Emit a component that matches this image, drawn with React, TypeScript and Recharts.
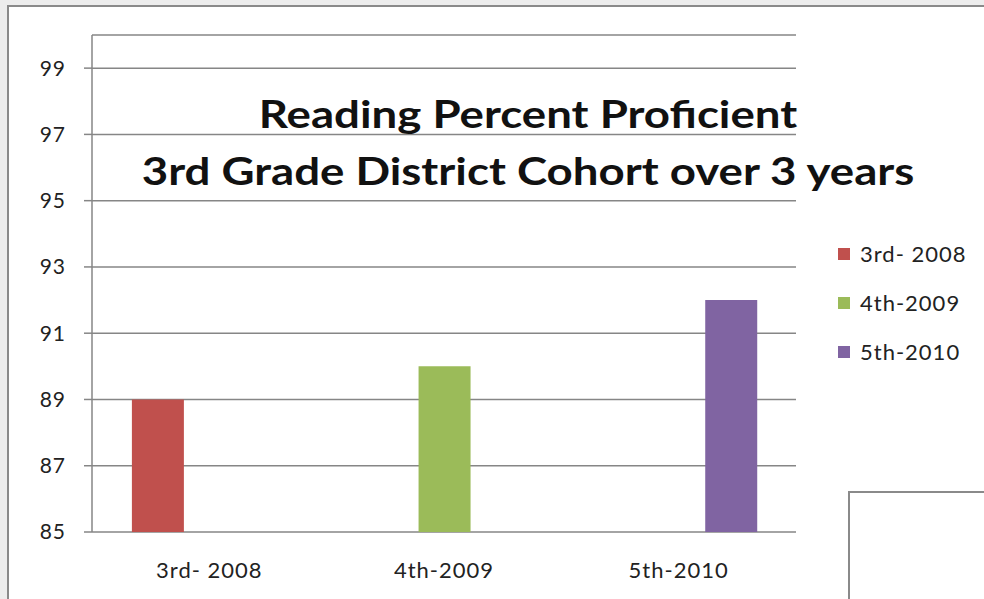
import React from "react";
import { BarChart, Bar, XAxis, YAxis, CartesianGrid } from "recharts";

const categories = ["3rd- 2008", "4th-2009", "5th-2010"];
const seriesNames = ["3rd- 2008", "4th-2009", "5th-2010"];
const seriesValues = [89, 90, 92];
const seriesColors = ["#c0504d", "#9bbb59", "#8064a2"];
const yTicks = [85, 87, 89, 91, 93, 95, 97, 99];

const data = categories.map((c, i) => {
  const row: Record<string, string | number | null> = { name: c };
  seriesNames.forEach((_, j) => {
    row["s" + j] = i === j ? seriesValues[j] : null;
  });
  return row;
});

const FONT = "Lato, 'Open Sans', sans-serif";
const GRID = "#868686";

export default function App() {
  return (
    <div
      style={{
        position: "fixed",
        left: 0,
        top: 0,
        width: 984,
        height: 599,
        background: "#ededed",
        overflow: "hidden",
      }}
    >
      <div
        style={{
          position: "absolute",
          left: 7,
          top: 5,
          width: 984,
          height: 599,
          background: "#fff",
          borderTop: "2px solid #8a8a8a",
          borderLeft: "2px solid #8a8a8a",
        }}
      />
      <div style={{ position: "absolute", left: 0, top: 0 }}>
        <BarChart
          width={984}
          height={599}
          data={data}
          margin={{ top: 35, right: 188, bottom: 27, left: 0 }}
          barCategoryGap="17%"
          barGap={0}
        >
          <CartesianGrid vertical={false} stroke={GRID} strokeWidth={1.5} />
          <XAxis
            xAxisId="edges"
            type="number"
            domain={[0, 3]}
            ticks={[0, 1, 2, 3]}
            allowDataOverflow
            height={0}
            tick={false}
            tickSize={8}
            tickLine={{ stroke: GRID, strokeWidth: 1.5 }}
            axisLine={{ stroke: GRID, strokeWidth: 1.5 }}
          />
          <XAxis
            dataKey="name"
            height={40}
            axisLine={false}
            tickLine={false}
            tick={{ fill: "#222", fontSize: 22, fontFamily: FONT, letterSpacing: 1 }}
            dy={22}
          />
          <YAxis
            width={92}
            domain={[85, 100]}
            ticks={yTicks}
            allowDataOverflow
            tickSize={8}
            tickMargin={18}
            tickLine={{ stroke: GRID, strokeWidth: 1.5 }}
            axisLine={{ stroke: GRID, strokeWidth: 1.5 }}
            tick={{ fill: "#222", fontSize: 21, fontFamily: FONT, letterSpacing: 1 }}
          />
          {seriesNames.map((n, j) => (
            <Bar key={n} dataKey={"s" + j} name={n} fill={seriesColors[j]} isAnimationActive={false} />
          ))}
        </BarChart>
      </div>
      <div style={{ position: "absolute", left: 838, top: 229, fontFamily: FONT }}>
        {seriesNames.map((n, j) => (
          <div key={n} style={{ display: "flex", alignItems: "center", height: 49 }}>
            <span
              style={{ width: 12, height: 12, background: seriesColors[j], display: "inline-block", marginRight: 10 }}
            />
            <span style={{ fontSize: 22, color: "#222", letterSpacing: 1 }}>{n}</span>
          </div>
        ))}
      </div>
      <div
        style={{
          position: "absolute",
          left: 0,
          width: 1056,
          top: 85,
          textAlign: "center",
          fontFamily: FONT,
          fontWeight: 700,
          fontSize: 38,
          lineHeight: "57px",
          color: "#111",
          transform: "scaleX(1.2)",
          transformOrigin: "528px 0",
          pointerEvents: "none",
        }}
      >
        <div>Reading Percent Proficient</div>
        <div>3rd Grade District Cohort over 3 years</div>
      </div>
      <div
        style={{
          position: "absolute",
          left: 848,
          top: 491,
          width: 200,
          height: 200,
          background: "#fff",
          borderTop: "2px solid #8a8a8a",
          borderLeft: "2px solid #8a8a8a",
        }}
      />
    </div>
  );
}
